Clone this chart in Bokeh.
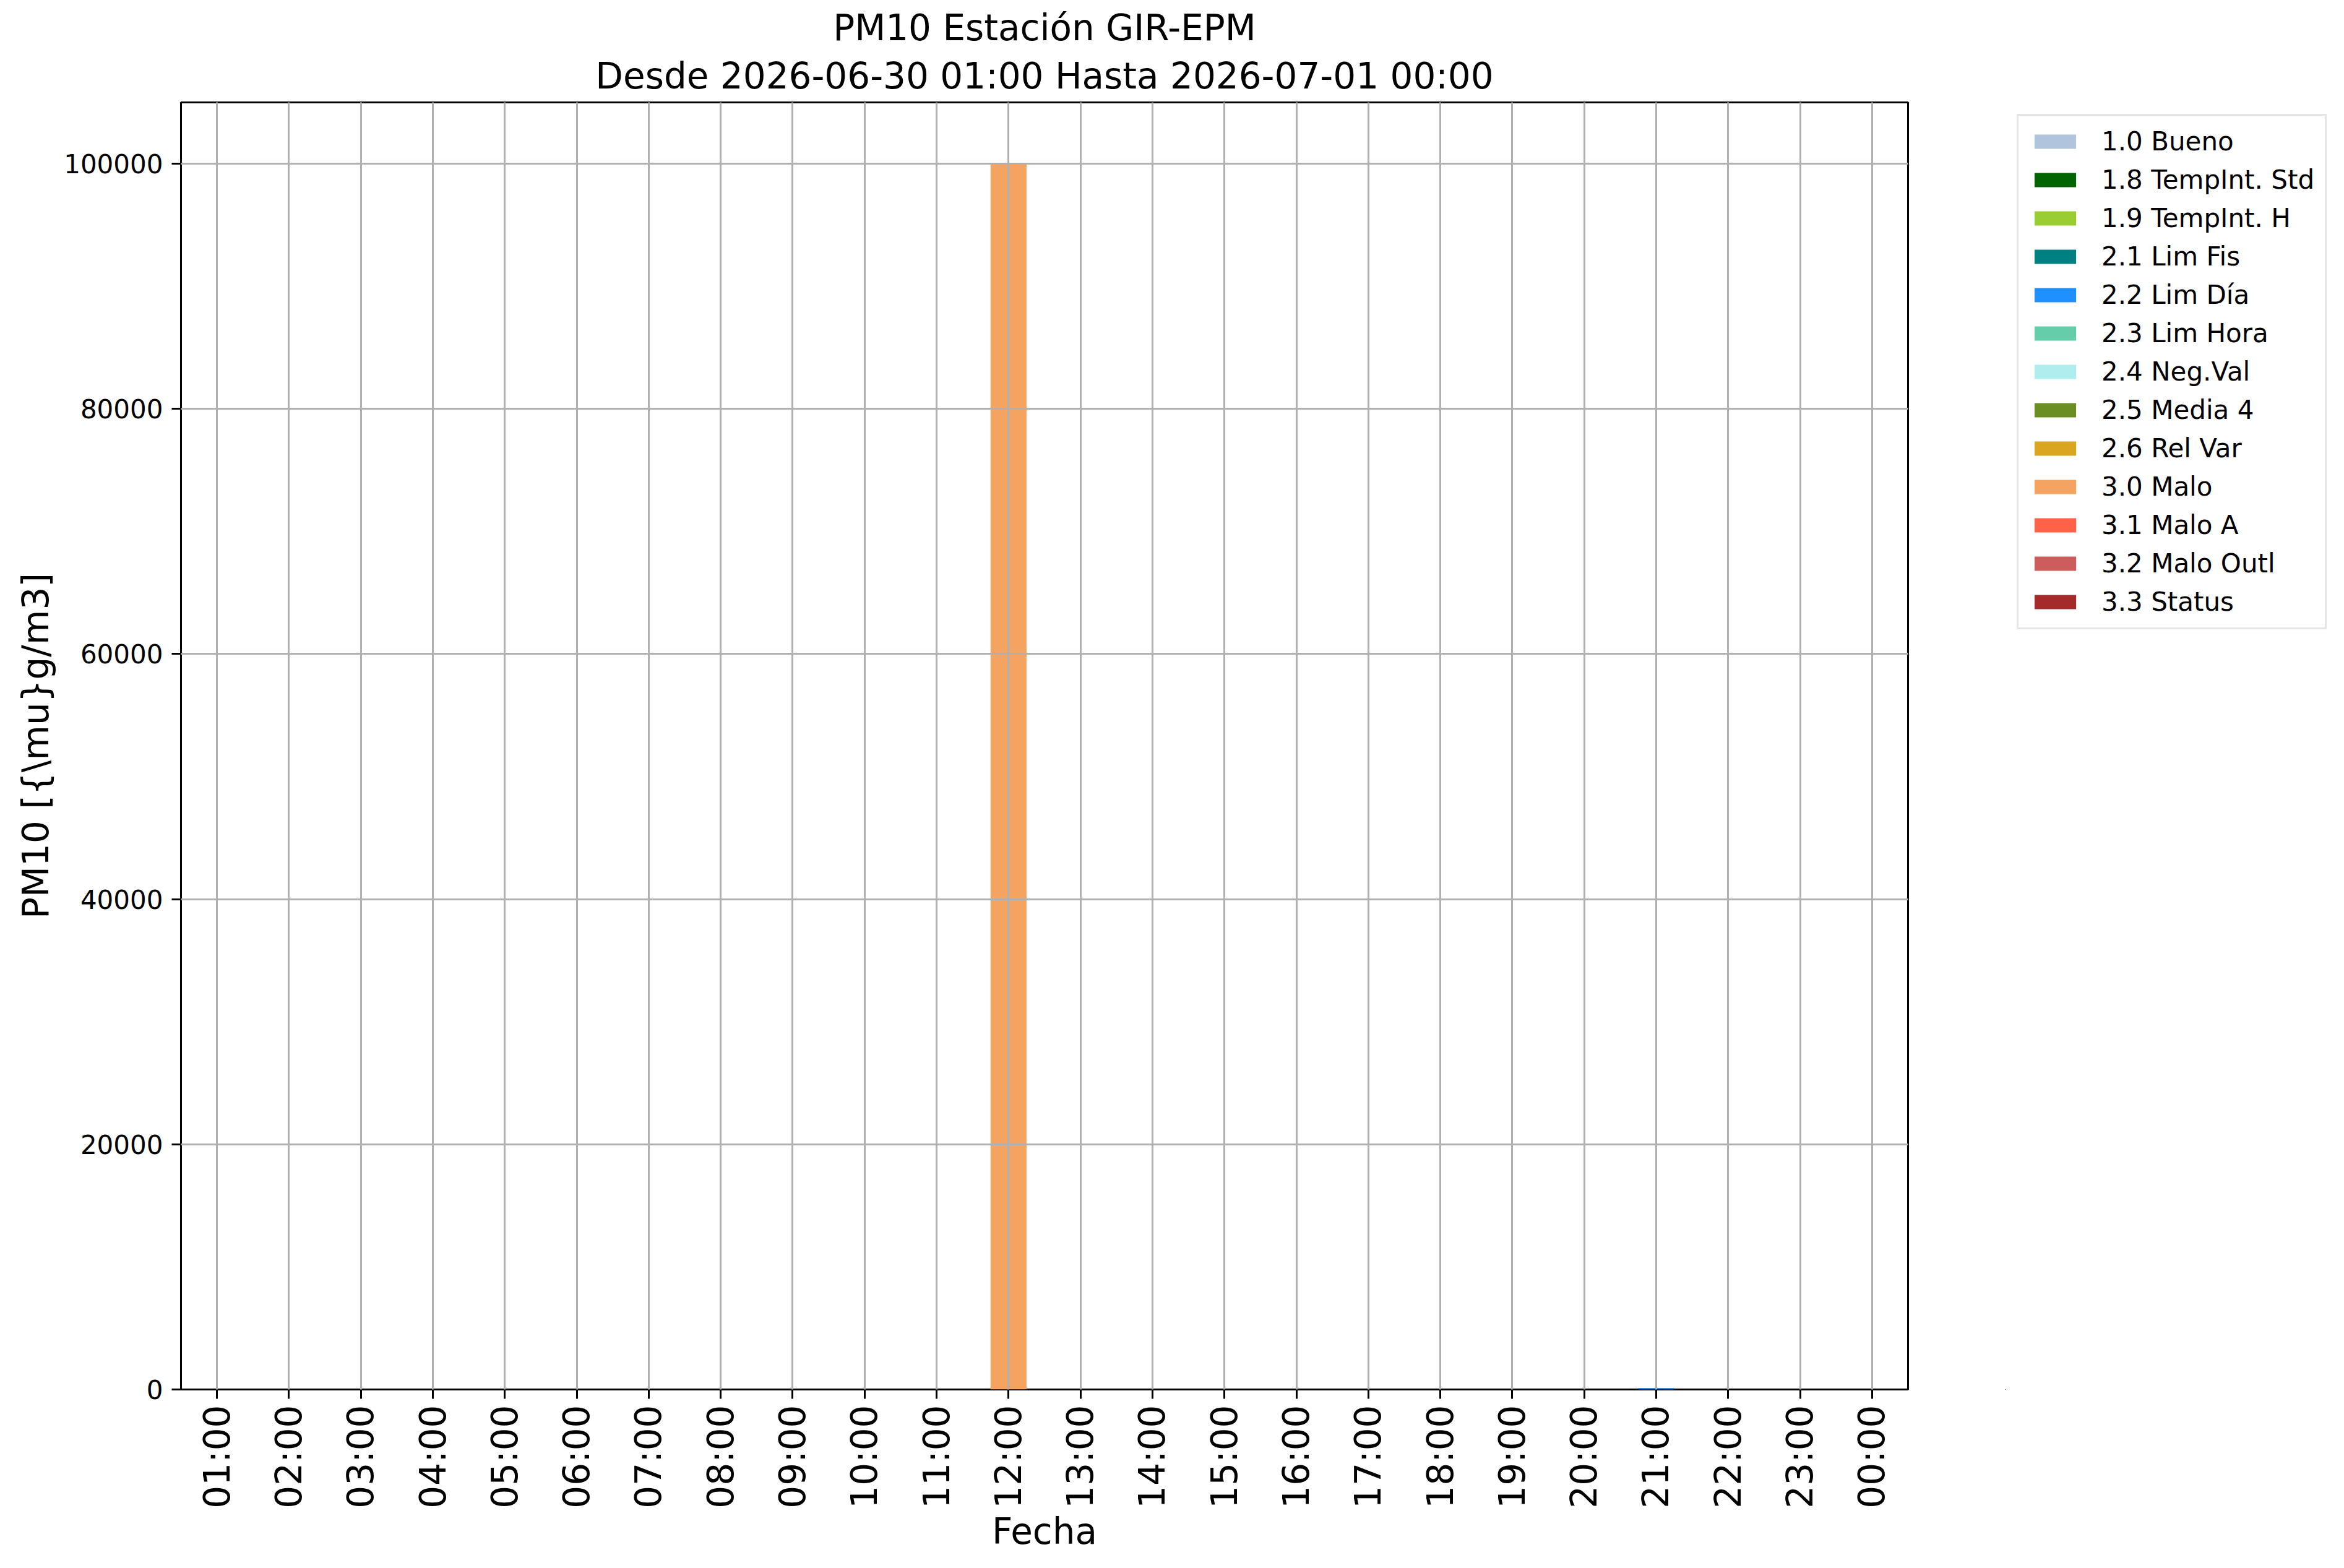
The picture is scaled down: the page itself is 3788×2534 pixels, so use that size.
import math
from bokeh.plotting import figure
from bokeh.layouts import row
from bokeh.models import Range1d, Legend, LegendItem, Title, ColumnDataSource, NumeralTickFormatter
from bokeh.embed import file_html
from bokeh.resources import INLINE

hours = ["01:00", "02:00", "03:00", "04:00", "05:00", "06:00", "07:00", "08:00",
         "09:00", "10:00", "11:00", "12:00", "13:00", "14:00", "15:00", "16:00",
         "17:00", "18:00", "19:00", "20:00", "21:00", "22:00", "23:00", "00:00"]

flag_labels = ["1.0 Bueno", "1.8 TempInt. Std", "1.9 TempInt. H", "2.1 Lim Fis",
               "2.2 Lim Día", "2.3 Lim Hora", "2.4 Neg.Val", "2.5 Media 4",
               "2.6 Rel Var", "3.0 Malo", "3.1 Malo A", "3.2 Malo Outl", "3.3 Status"]

flag_colors = ["#B0C4DE", "#006400", "#9ACD32", "#008080", "#1E90FF", "#66CDAA",
               "#AFEEEE", "#6B8E23", "#DAA520", "#F4A460", "#FF6347", "#CD5C5C", "#A52A2A"]

bueno      = [0, 0, 0, 0, 0, 0, 0, 0, 0, 0, 0, 0, 0, 0, 0, 0, 0, 0, 0, 0, 0, 0, 0, 0]
tempint_std = [0, 0, 0, 0, 0, 0, 0, 0, 0, 0, 0, 0, 0, 0, 0, 0, 0, 0, 0, 0, 0, 0, 0, 0]
tempint_h  = [0, 0, 0, 0, 0, 0, 0, 0, 0, 0, 0, 0, 0, 0, 0, 0, 0, 0, 0, 0, 0, 0, 0, 0]
lim_fis    = [0, 0, 0, 0, 0, 0, 0, 0, 0, 0, 0, 0, 0, 0, 0, 0, 0, 0, 0, 0, 0, 0, 0, 0]
lim_dia    = [0, 0, 0, 0, 0, 0, 0, 0, 0, 0, 0, 0, 0, 0, 0, 0, 0, 0, 0, 0, 120, 0, 0, 0]
lim_hora   = [0, 0, 0, 0, 0, 0, 0, 0, 0, 0, 0, 0, 0, 0, 0, 0, 0, 0, 0, 0, 0, 0, 0, 0]
neg_val    = [0, 0, 0, 0, 0, 0, 0, 0, 0, 0, 0, 0, 0, 0, 0, 0, 0, 0, 0, 0, 0, 0, 0, 0]
media_4    = [0, 0, 0, 0, 0, 0, 0, 0, 0, 0, 0, 0, 0, 0, 0, 0, 0, 0, 0, 0, 0, 0, 0, 0]
rel_var    = [0, 0, 0, 0, 0, 0, 0, 0, 0, 0, 0, 0, 0, 0, 0, 0, 0, 0, 0, 0, 0, 0, 0, 0]
malo       = [0, 0, 0, 0, 0, 0, 0, 0, 0, 0, 0, 100000, 0, 0, 0, 0, 0, 0, 0, 0, 0, 0, 0, 0]
malo_a     = [0, 0, 0, 0, 0, 0, 0, 0, 0, 0, 0, 0, 0, 0, 0, 0, 0, 0, 0, 0, 0, 0, 0, 0]
malo_outl  = [0, 0, 0, 0, 0, 0, 0, 0, 0, 0, 0, 0, 0, 0, 0, 0, 0, 0, 0, 0, 0, 0, 0, 0]
status     = [0, 0, 0, 0, 0, 0, 0, 0, 0, 0, 0, 0, 0, 0, 0, 0, 0, 0, 0, 0, 0, 0, 0, 0]

y_ticks = [0, 20000, 40000, 60000, 80000, 100000]

series = [bueno, tempint_std, tempint_h, lim_fis, lim_dia, lim_hora, neg_val,
          media_4, rel_var, malo, malo_a, malo_outl, status]
keys = ["s%d" % i for i in range(len(series))]

data = {"x": list(range(len(hours)))}
for k, s in zip(keys, series):
    data[k] = s
source = ColumnDataSource(data)

FONT = "DejaVu Sans"
H = 2526

p = figure(width=3093, height=H, output_backend="svg", toolbar_location=None,
           x_range=Range1d(-0.5, len(hours) - 0.5), y_range=Range1d(0, 105000),
           title=None, min_border_left=292, min_border_right=10,
           min_border_top=165, min_border_bottom=281)
p.background_fill_color = "white"
p.border_fill_color = "white"

renderers = p.vbar_stack(keys, x="x", width=0.5, source=source,
                         fill_color=flag_colors, line_color=None)

# titles (bottom line added first, it sits next to the frame)
p.add_layout(Title(text="Desde 2026-06-30 01:00 Hasta 2026-07-01 00:00", align="center",
                   text_font=FONT, text_font_size="58px", text_font_style="normal",
                   text_color="black", standoff=17), "above")
p.add_layout(Title(text="PM10 Estación GIR-EPM", align="center",
                   text_font=FONT, text_font_size="58px", text_font_style="normal",
                   text_color="black", standoff=0), "above")

# axes
p.xaxis.ticker = list(range(len(hours)))
p.xaxis.major_label_overrides = {i: h for i, h in enumerate(hours)}
p.xaxis.major_label_orientation = math.pi / 2
p.yaxis.ticker = y_ticks
p.yaxis.formatter = NumeralTickFormatter(format="0")

for ax in (p.xaxis[0], p.yaxis[0]):
    ax.axis_line_color = None
    ax.major_tick_out = 15
    ax.major_tick_in = 0
    ax.major_tick_line_width = 3
    ax.major_tick_line_color = "black"
    ax.minor_tick_out = 0
    ax.minor_tick_in = 0
    ax.major_label_text_font = FONT
    ax.major_label_text_color = "black"
    ax.axis_label_text_font = FONT
    ax.axis_label_text_font_style = "normal"
    ax.axis_label_text_font_size = "58px"
    ax.axis_label_text_color = "black"

p.xaxis.major_label_text_font_size = "58px"
p.xaxis.major_label_standoff = 10
p.xaxis.axis_label = "Fecha"
p.xaxis.axis_label_standoff = 0
p.yaxis.major_label_text_font_size = "42px"
p.yaxis.major_label_standoff = 14
p.yaxis.axis_label = r"PM10 [{\mu}g/m3]"
p.yaxis.axis_label_standoff = 8

for g in (p.xgrid[0], p.ygrid[0]):
    g.grid_line_color = "#b0b0b0"
    g.grid_line_width = 3
    g.level = "annotation"

p.outline_line_color = "black"
p.outline_line_width = 3
p.outline_line_alpha = 1.0

# legend panel (separate figure to the right; its ranges lie far from all bars)
p2 = figure(width=676, height=H, output_backend="svg", toolbar_location=None,
            x_range=Range1d(1000, 1001), y_range=Range1d(500000, 500001), title=None,
            x_axis_location=None, y_axis_location=None,
            min_border_left=147, min_border_right=0, min_border_top=165, min_border_bottom=281)
p2.grid.visible = False
p2.outline_line_color = None
p2.outline_line_alpha = 0
p2.background_fill_color = None
p2.border_fill_color = None

proxies = p2.vbar_stack(keys, x="x", width=0.5, source=source,
                        fill_color=flag_colors, line_color=None)
items = [LegendItem(label=lab, renderers=[r]) for lab, r in zip(flag_labels, proxies)]

legend = Legend(items=items, location="top_left",
                label_text_font=FONT, label_text_font_size="42px",
                label_text_color="black",
                glyph_width=84, glyph_height=29, label_height=42,
                label_standoff=33, spacing=13, padding=17, margin=19,
                border_line_color="#cccccc", border_line_width=3,
                background_fill_color="white", background_fill_alpha=0.8)
p2.add_layout(legend, "center")

layout = row(p, p2)
open("out.html", "w").write(file_html(layout, INLINE))
